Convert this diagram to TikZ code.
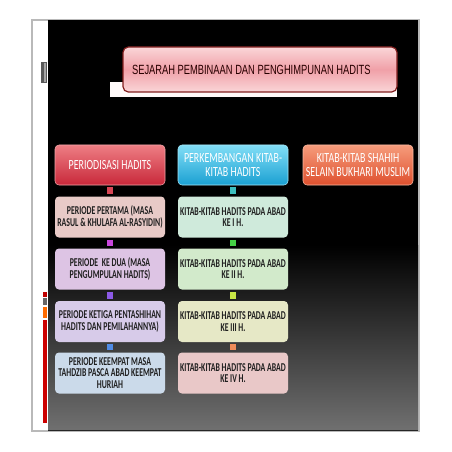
\documentclass[tikz,border=0pt]{standalone}
\usepackage{fontspec}
\usepackage{tikz}
\newfontfamily\boxfont[FakeStretch=0.65]{Carlito}
\newfontfamily\headfont[FakeStretch=0.71]{Carlito}
\newfontfamily\titlefont[FakeStretch=0.7]{Liberation Sans}

\definecolor{bggray}{RGB}{112,112,112}
\definecolor{titletop}{RGB}{250,214,216}
\definecolor{titlemid}{RGB}{240,160,168}
\definecolor{titleline}{RGB}{130,30,30}
\definecolor{redtop}{RGB}{238,126,132}
\definecolor{redbot}{RGB}{200,40,58}
\definecolor{cyantop}{RGB}{130,222,246}
\definecolor{cyanbot}{RGB}{26,160,210}
\definecolor{orangetop}{RGB}{246,156,124}
\definecolor{orangebot}{RGB}{222,80,46}
\definecolor{itemA}{RGB}{232,202,199}
\definecolor{itemB}{RGB}{221,196,228}
\definecolor{itemC}{RGB}{215,203,233}
\definecolor{itemD}{RGB}{203,218,234}
\definecolor{itemE}{RGB}{207,234,219}
\definecolor{itemF}{RGB}{210,234,203}
\definecolor{itemG}{RGB}{230,232,198}
\definecolor{itemH}{RGB}{233,200,200}

\begin{document}
\begin{tikzpicture}[x=0.75pt,y=0.75pt,yscale=-1,xscale=1,
  headbox/.style={rounded corners=3pt, minimum width=82.5pt, minimum height=30pt, inner sep=1pt, align=center, text=white, font=\headfont\fontsize{10.5}{10.5}\selectfont},
  itembox/.style={rounded corners=3pt, minimum width=82.5pt, minimum height=30.75pt, inner sep=1pt, align=center, text=black!88, font=\boxfont\bfseries\fontsize{9}{8.6}\selectfont},
  link/.style={line width=4pt, shorten <=1.6pt, shorten >=1.6pt}]
\useasboundingbox (0,0) rectangle (452,452);
\fill[white] (0,0) rectangle (452,452);

%Shape: Rectangle [frame]
\draw[draw=gray!55, fill=white, line width=0.8pt] (32,20) rectangle (419,431);
%Shape: Rectangle [panel]
\fill[black] (48,20) rectangle (418,430);
\shade[top color=black, bottom color=bggray] (48,245) rectangle (418,430);
\draw[black!85, line width=0.9pt] (48,430.3) -- (418,430.3);

%Shape: left bars
\fill[black!65] (41,62) rectangle (47,83);
\fill[black!35] (44,63) rectangle (45.5,82);
\fill[red!75!black] (43,292) rectangle (46.5,297);
\fill[black!60] (43,298) rectangle (46.5,305);
\fill[orange!85!red] (43,307) rectangle (46.5,318);
\fill[red!80!black] (43,320) rectangle (46.5,423);

%Shape: title shadow
\fill[white!90!pink] (110,82) rectangle (397,97);
% Text Node
\node (title) [draw=titleline, line width=0.9pt, rounded corners=4pt, top color=titletop, bottom color=titletop, middle color=titlemid, minimum width=205.5pt, minimum height=33.75pt, inner sep=0pt, text=black!85!red, font=\titlefont\fontsize{10}{10}\selectfont] at (260,69.5) {SEJARAH PEMBINAAN DAN PENGHIMPUNAN HADITS\hspace*{13pt}};

% Header Nodes
\node (lhead) [headbox, draw=redtop!70!white, top color=redtop, bottom color=redbot] at (110,165) {PERIODISASI HADITS};
\node (mhead) [headbox, draw=cyantop!70!white, top color=cyantop, bottom color=cyanbot] at (233,165) {PERKEMBANGAN KITAB-\\KITAB HADITS};
\node (rhead) [headbox, draw=orangetop!70!white, top color=orangetop, bottom color=orangebot] at (358,165) {KITAB-KITAB SHAHIH\\SELAIN BUKHARI MUSLIM};

% Left column
\node (lone) [itembox, fill=itemA] at (110,217) {PERIODE PERTAMA (MASA\\RASUL \& KHULAFA AL-RASYIDIN)};
\node (ltwo) [itembox, fill=itemB] at (110,269) {PERIODE~ KE DUA (MASA\\PENGUMPULAN HADITS)};
\node (lthree) [itembox, fill=itemC] at (110,321.5) {PERIODE KETIGA PENTASHIHAN\\HADITS DAN PEMILAHANNYA)};
\node (lfour) [itembox, fill=itemD] at (110,373) {PERIODE KEEMPAT MASA\\TAHDZIB PASCA ABAD KEEMPAT\\HURIAH};

% Middle column
\node (mone) [itembox, fill=itemE] at (233,217) {KITAB-KITAB HADITS PADA ABAD\\KE I H.};
\node (mtwo) [itembox, fill=itemF] at (233,269) {KITAB-KITAB HADITS PADA ABAD\\KE II H.};
\node (mthree) [itembox, fill=itemG] at (233,321.5) {KITAB-KITAB HADITS PADA ABAD\\KE III H.};
\node (mfour) [itembox, fill=itemH] at (233,373) {KITAB-KITAB HADITS PADA ABAD\\KE IV H.};

%Straight Lines [links]
\draw[link, color={rgb,255:red,214;green,70;blue,86}] (lhead) -- (lone);
\draw[link, color={rgb,255:red,200;green,70;blue,220}] (lone) -- (ltwo);
\draw[link, color={rgb,255:red,140;green,90;blue,230}] (ltwo) -- (lthree);
\draw[link, color={rgb,255:red,80;green,140;blue,230}] (lthree) -- (lfour);
\draw[link, color={rgb,255:red,60;green,190;blue,190}] (mhead) -- (mone);
\draw[link, color={rgb,255:red,70;green,210;blue,70}] (mone) -- (mtwo);
\draw[link, color={rgb,255:red,200;green,230;blue,70}] (mtwo) -- (mthree);
\draw[link, color={rgb,255:red,240;green,140;blue,90}] (mthree) -- (mfour);

\end{tikzpicture}
\end{document}
